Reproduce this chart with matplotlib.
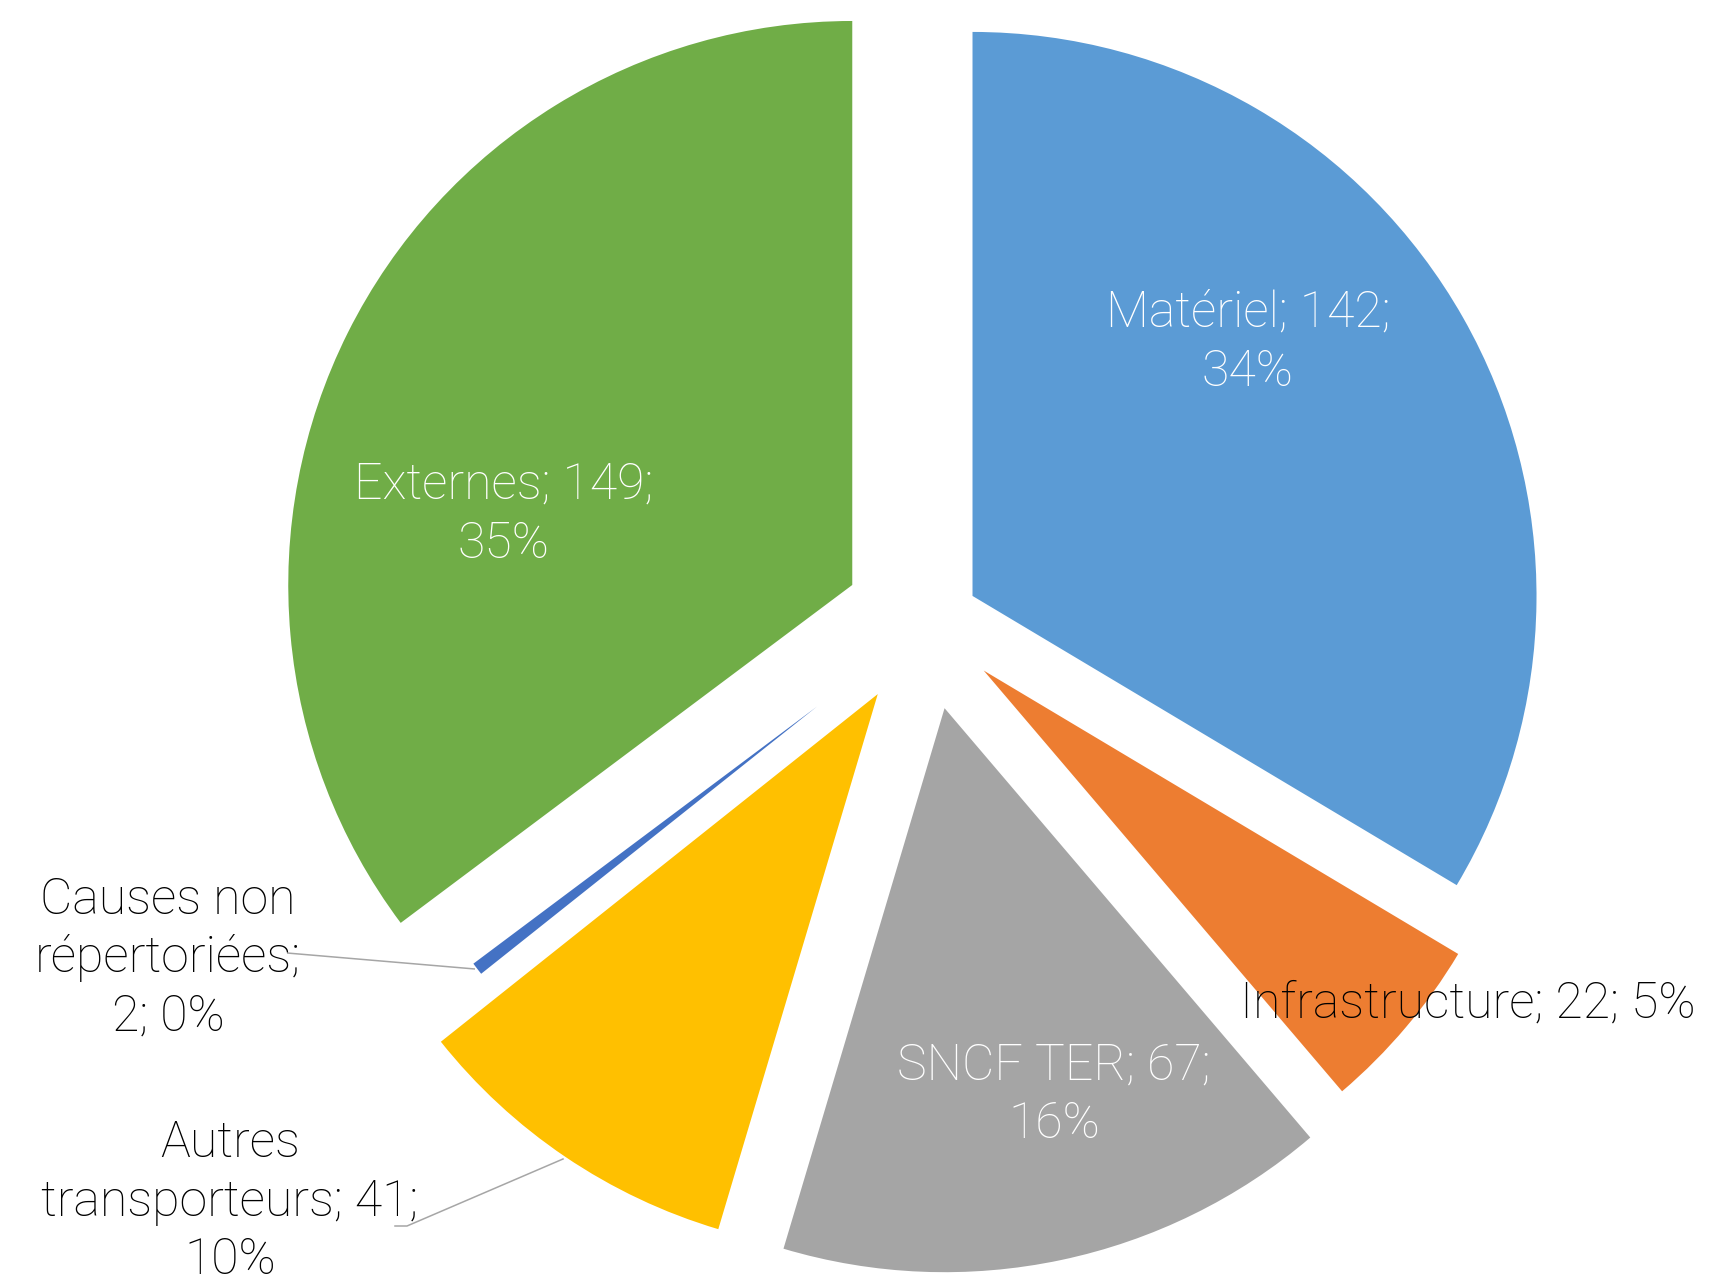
import matplotlib
matplotlib.use("Agg")
import matplotlib.pyplot as plt

# ---- data ----
categories = ["Matériel", "Infrastructure", "SNCF TER", "Autres transporteurs",
              "Causes non répertoriées", "Externes"]
values = [142, 22, 67, 41, 2, 149]
colors = ["#5B9BD5", "#ED7D31", "#A5A5A5", "#FFC000", "#4472C4", "#70AD47"]

# ---- layout / style ----
W, H = 1722, 1283
R = 564
CX, CY = 926.4, 622.1          # pie centre in pixel coords (y down)
explode_frac = [0.094, 0.133, 0.156, 0.154, 0.245, 0.147]
radius_frac = [1.0, 0.98, 1.0, 0.99, 0.761, 1.0]

# label layout: (x centre, first baseline y in px, text colour)
label_layout = [
    (1248, 327, "white"),
    (1468, 1018, "black"),
    (1054, 1080, "white"),
    (230, 1157, "black"),
    (168, 914, "black"),
    (504, 499, "white"),
]
line_step = 58.5

def py(y):
    return H - y

total = sum(values)
pcts = [round(v / total * 100) for v in values]

def label_lines(i):
    c, v, p = categories[i], values[i], pcts[i]
    if c == "Infrastructure":
        return [f"{c}; {v}; {p}%"]
    if c == "Autres transporteurs":
        a, b = c.split(" ", 1)
        return [a, f"{b}; {v};", f"{p}%"]
    if c == "Causes non répertoriées":
        a, b, d = c.split(" ")
        return [f"{a} {b}", f"{d};", f"{v}; {p}%"]
    return [f"{c}; {v};", f"{p}%"]

fig = plt.figure(figsize=(W / 100, H / 100), dpi=100)
ax = fig.add_axes([0, 0, 1, 1])

wedges, _ = ax.pie(values, colors=colors, startangle=90, counterclock=False,
                   explode=[f * R for f in explode_frac], radius=R,
                   center=(CX, py(CY)), frame=True,
                   wedgeprops=dict(linewidth=0))
for w, rf in zip(wedges, radius_frac):
    w.set_radius(R * rf)

ax.set_xlim(0, W)
ax.set_ylim(0, H)
ax.set_aspect("equal")
ax.axis("off")

font = dict(family=["Roboto", "DejaVu Sans"], fontsize=36, fontweight="light")
for i, (x, y0, col) in enumerate(label_layout):
    for k, line in enumerate(label_lines(i)):
        ax.text(x, py(y0 + k * line_step), line, ha="center", va="baseline",
                color=col, **font)

# leader lines
lc = "#A6A6A6"
ax.plot([287, 475], [py(953), py(969)], color=lc, lw=1.1, solid_capstyle="butt")
ax.plot([395, 407, 563], [py(1226), py(1226), py(1159)], color=lc, lw=1.1)

fig.savefig("out.png", dpi=100)
